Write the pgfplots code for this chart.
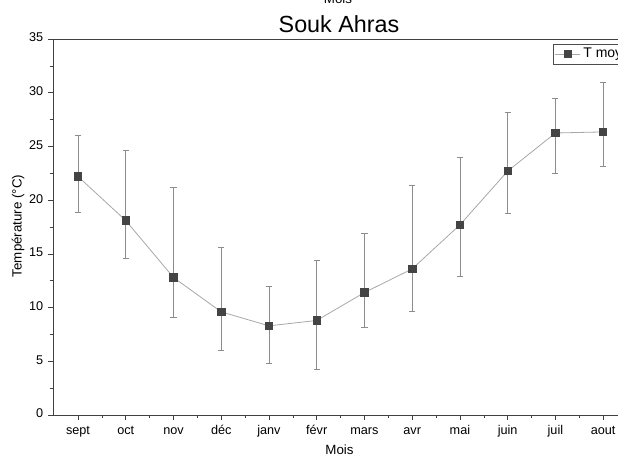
\documentclass[border=0pt]{standalone}
\usepackage{fontspec}
\setmainfont{Liberation Sans}
\usepackage{pgfplots}
\pgfplotsset{compat=1.18}
\definecolor{markgray}{HTML}{444444}
\definecolor{linegray}{HTML}{A8A8A8}
\definecolor{errgray}{HTML}{8C8C8C}
\begin{document}
\begin{tikzpicture}[x=0.75pt,y=0.75pt]
% page = 618 x 457 px, y counted from the bottom
\path[use as bounding box] (0,0) rectangle (618,457);
\begin{axis}[
  scale only axis,
  width=430.5pt, height=282pt,
  at={(39.75pt,31.5pt)}, anchor=south west,
  xmin=-0.524, xmax=11.5,
  ymin=0, ymax=35,
  xtick={0,...,11},
  xticklabels={sept,oct,nov,déc,janv,févr,mars,avr,mai,juin,juil,aout},
  ytick={0,5,...,35},
  minor x tick num=1, minor y tick num=1,
  tick align=outside, tick pos=left,
  major tick length=3.75pt, minor tick length=2pt,
  axis line style={black!75},
  every tick/.style={black!75},
  ticklabel style={font=\fontsize{9.5}{11}\selectfont},
  typeset ticklabels with strut,
  /pgf/number format/assume math mode=true,
  legend style={at={(axis description cs:0.871,0.9875)}, anchor=north west,
    font=\fontsize{10.5}{12}\selectfont, inner sep=1.2pt, draw=black!70},
  legend image code/.code={\draw[mark repeat=2,mark phase=2,#1]
    plot coordinates {(0pt,0pt) (9.4pt,0pt) (18.8pt,0pt)};},
]
\addplot[color=linegray, line width=0.6pt,
  mark=square*, mark size=2.8pt,
  mark options={fill=markgray, draw=markgray},
  error bars/.cd, y dir=both, y explicit,
  error bar style={errgray, line width=0.6pt},
  error mark options={rotate=90, mark size=2.3pt, errgray, line width=0.6pt}]
table[x=x, y=y, y error plus=ep, y error minus=em] {
x  y      ep    em
0  22.2   3.8   3.3
1  18.1   6.5   3.5
2  12.8   8.4   3.7
3  9.6    6.0   3.6
4  8.3    3.7   3.5
5  8.8    5.6   4.55
6  11.4   5.5   3.2
7  13.6   7.8   4.0
8  17.7   6.3   4.8
9  22.7   5.45  3.95
10 26.25  3.25  3.8
11 26.35  4.6   3.25
};
\addlegendentry{T moy}
\end{axis}
\node[anchor=base, font=\fontsize{17.5}{20}\selectfont] at (339,424) {Souk Ahras};
\node[anchor=base, font=\fontsize{10}{12}\selectfont] at (338,453) {Mois};
\node[anchor=base, font=\fontsize{10}{12}\selectfont] at (339.5,2) {Mois};
\node[rotate=90, font=\fontsize{10}{12}\selectfont] at (18,231) {Température (°C)};
\end{tikzpicture}
\end{document}
